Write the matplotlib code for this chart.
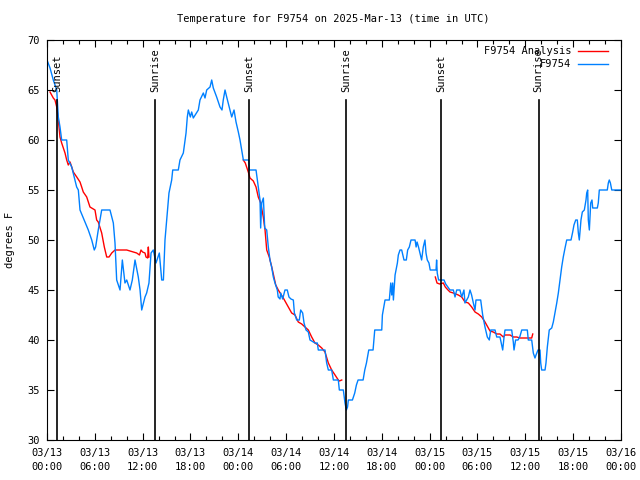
import matplotlib
matplotlib.use("Agg")
import matplotlib.pyplot as plt
import matplotlib.dates as mdates
import numpy as np
import pandas as pd

START = pd.Timestamp("2025-03-13 00:00")

# observations, hours since 03/13 00:00 UTC
obs_hours = [
    0.0, 0.38, 0.79, 1.22, 1.42, 1.63, 1.84, 2.47, 2.67, 3.1, 3.51, 3.72, 3.93, 4.14, 4.55,
    5.18, 5.61, 5.93, 6.1, 6.43, 6.86, 7.9, 8.32, 8.53, 8.74, 9.16, 9.45, 9.78, 10.0, 10.41,
    10.7, 11.04, 11.45, 11.67, 11.88, 12.29, 12.5, 12.79, 13.05, 13.33, 13.67, 14.09, 14.39,
    14.6, 14.8, 15.3, 15.64, 15.77, 16.47, 16.68, 17.1, 17.44, 17.6, 17.73, 17.98, 18.15,
    18.35, 18.98, 19.19, 19.61, 19.82, 20.03, 20.45, 20.66, 20.86, 21.28, 21.7, 21.95, 22.11,
    22.33, 22.54, 22.95, 23.17, 23.46, 23.71, 24.0, 24.21, 24.42, 24.63, 25.3, 25.38, 26.22,
    26.51, 26.72, 26.8, 26.93, 27.14, 27.31, 27.56, 27.76, 27.97, 28.18, 28.39, 28.6, 28.89,
    29.0, 29.23, 29.31, 29.56, 29.85, 30.14, 30.35, 30.6, 30.9, 31.03, 31.32, 31.65, 31.82,
    32.07, 32.24, 32.49, 32.78, 32.99, 33.62, 33.91, 34.03, 34.87, 35.08, 35.29, 35.71, 35.92,
    36.54, 36.67, 37.17, 37.38, 37.55, 37.7, 37.8, 38.31, 38.6, 38.81, 39.02, 39.65, 39.86,
    40.07, 40.36, 40.9, 41.11, 41.99, 42.07, 42.4, 42.94, 43.12, 43.24, 43.36, 43.45, 43.66,
    43.95, 44.07, 44.28, 44.49, 44.78, 45.07, 45.24, 45.45, 45.66, 46.17, 46.3, 46.42, 46.6,
    46.99, 47.2, 47.41, 47.54, 47.7, 47.91, 48.07, 48.8, 48.87, 48.95, 49.12,
    49.25, 49.8, 50.01, 50.55, 50.97, 51.18, 51.39, 51.8, 52.02, 52.3, 52.43, 52.85, 53.06,
    53.26, 53.48, 53.69, 53.81, 54.4, 54.65, 54.94, 55.23, 55.48, 55.66, 56.2, 56.41, 56.82,
    57.16, 57.33, 57.45, 58.29, 58.49, 58.58, 58.78, 59.08, 59.3, 59.55, 60.25, 60.37, 60.8,
    61.0, 61.21, 61.34, 61.59, 61.84, 61.93, 62.05, 62.47, 62.59, 62.76, 63.0, 63.31, 63.51,
    63.72, 63.94, 64.14, 64.35, 64.56, 64.76, 64.98, 65.19, 65.73, 65.94, 66.1, 66.32, 66.52,
    66.65, 66.77, 66.98, 67.15, 67.4, 67.61, 67.7, 67.82, 67.9, 68.03, 68.2, 68.36, 68.45,
    69.03, 69.15, 69.28, 70.28, 70.41, 70.53, 70.67, 70.84, 72.0,
]
obs_temp = [
    68.0, 67.2, 66.0, 65.0, 62.3, 61.3, 60.0, 60.0, 58.0, 57.3, 56.0, 55.3, 55.0, 53.0, 52.2,
    51.0, 50.0, 49.0, 49.3, 51.0, 53.0, 53.0, 51.7, 49.7, 46.0, 45.0, 48.0, 45.7, 46.0, 45.0,
    46.0, 48.0, 46.3, 45.0, 43.0, 44.3, 44.7, 45.7, 48.7, 49.0, 47.7, 48.7, 46.0,
    46.0, 50.0, 54.7, 56.0, 57.0, 57.0, 58.0, 58.7, 60.7, 62.3, 63.0, 62.3, 62.8,
    62.2, 63.0, 64.0, 64.7, 64.2, 65.0, 65.3, 66.0, 65.2, 64.3, 63.3, 63.0, 64.0,
    65.0, 64.3, 63.0, 62.3, 63.0, 61.8, 60.8, 60.0, 59.0, 58.0, 58.0, 57.0, 57.0,
    55.3, 54.0, 51.2, 53.7, 54.2, 51.2, 51.0, 49.3, 48.0, 47.3, 46.3, 45.7, 45.0,
    44.3, 44.1, 44.7, 44.1, 45.0, 45.0, 44.3, 44.1, 44.0, 42.7, 42.0, 42.0, 43.0,
    42.7, 41.7, 41.0, 40.8, 40.0, 39.7, 39.7, 39.0, 39.0, 37.7, 37.0, 37.0, 36.0,
    36.0, 35.0, 35.0, 33.7, 33.0, 33.3, 34.0, 34.0, 34.7, 35.5, 36.0, 36.0, 37.0,
    37.7, 39.0, 39.0, 41.0, 41.0, 42.5, 44.0, 44.0, 45.7, 44.5, 45.7, 44.0, 46.5,
    47.7, 48.5, 49.0, 49.0, 48.0, 48.0, 49.0, 49.3, 50.0, 50.0, 49.3, 49.8, 49.3,
    48.0, 49.3, 50.0, 48.7, 48.0, 47.7, 47.0, 47.0, 48.0, 46.7, 46.0,
    46.0, 46.0, 45.6, 45.0, 45.0, 44.3, 45.0, 45.0, 44.3, 45.0, 43.7, 44.3, 45.0,
    44.5, 43.7, 43.0, 44.0, 44.0, 42.5, 41.3, 40.3, 40.0, 41.0, 41.0, 40.3, 40.3,
    39.0, 40.3, 41.0, 41.0, 39.8, 39.0, 40.0, 40.0, 40.3, 41.0, 41.0, 40.0, 40.0,
    38.7, 38.2, 38.5, 39.0, 39.0, 37.7, 37.0, 37.0, 37.7, 39.3, 41.0, 41.2, 41.8,
    42.7, 43.7, 44.7, 46.0, 47.3, 48.3, 49.2, 50.0, 50.0, 50.8, 51.5, 52.0, 52.0,
    50.7, 50.0, 52.0, 52.8, 53.0, 54.0, 54.7, 55.0, 52.0, 51.0, 53.7, 54.0, 53.2,
    53.2, 53.7, 55.0, 55.0, 55.7, 56.0, 55.7, 55.0, 55.0,
]

# analysis, three night-time pieces
ana1_hours = [0.38, 0.79, 1.0, 1.22, 1.42, 1.63, 1.84, 2.26, 2.47, 2.67, 2.89, 3.1, 3.3, 3.73,
              4.14, 4.35, 4.55, 4.98, 5.39, 5.81, 6.02, 6.23, 6.43, 6.86, 7.19, 7.49, 7.78,
              8.12, 8.53, 10.0, 10.41, 10.83, 11.25, 11.6, 11.79, 11.99, 12.29, 12.42, 12.63,
              12.71, 12.79]
ana1_temp = [64.8, 64.2, 64.0, 63.3, 62.0, 60.3, 59.7, 58.7, 58.0, 57.5, 57.8, 57.3, 56.8, 56.3,
             55.8, 55.3, 54.8, 54.3, 53.3, 53.1, 53.0, 52.0, 51.8, 50.7, 49.3, 48.3, 48.3,
             48.7, 49.0, 49.0, 48.9, 48.8, 48.7, 48.5, 49.0, 48.8, 48.7, 48.3, 48.2,
             49.3, 48.3]
ana2_hours = [24.62, 24.87, 25.25, 25.46, 25.88, 26.22, 26.5, 26.81, 27.13, 27.35, 27.56, 27.88,
              28.19, 28.47, 28.69, 29.01, 29.64, 29.85, 30.27, 30.69, 31.11, 31.52, 31.95,
              32.36, 32.78, 33.2, 33.61, 34.03, 34.46, 34.87, 35.29, 35.71, 36.13, 36.54,
              36.67, 36.97]
ana2_temp = [58.0, 57.7, 56.8, 56.2, 55.9, 55.3, 54.3, 53.7, 52.3, 51.0, 49.0, 48.3,
             47.3, 46.3, 45.5, 45.0, 44.2, 43.9, 43.3, 42.7, 42.5, 41.8, 41.6,
             41.3, 41.0, 40.3, 39.7, 39.5, 39.2, 38.8, 37.7, 37.0, 36.5, 36.0,
             35.9, 36.0]
ana3_hours = [48.71, 48.92, 49.25, 49.71, 49.96, 50.3, 50.55, 50.97, 51.59, 52.02, 52.43, 52.85,
              53.27, 53.69, 54.1, 54.53, 54.94, 55.36, 55.57, 55.98, 56.41, 56.82, 57.24,
              57.45, 58.08, 58.49, 58.92, 59.33, 60.8, 60.93]
ana3_temp = [46.3, 45.7, 45.6, 45.7, 45.3, 45.0, 44.8, 44.7, 44.5, 44.3, 43.8, 43.7,
             43.3, 42.8, 42.6, 42.3, 41.8, 41.2, 40.9, 40.8, 40.6, 40.6, 40.3,
             40.5, 40.5, 40.3, 40.3, 40.2, 40.2, 40.6]

sun_hours = [1.29, 13.59, 25.38, 37.55, 49.46, 61.67]
sun_names = ["Sunset", "Sunrise", "Sunset", "Sunrise", "Sunset", "Sunrise"]


def to_time(hours):
    return START + pd.to_timedelta(np.array(hours), unit="h")


FONT = "DejaVu Sans Mono"
plt.rcParams["font.family"] = FONT
plt.rcParams["font.size"] = 7

fig = plt.figure(figsize=(6.4, 4.8), dpi=100)
ax = fig.add_axes([47 / 640, 40 / 480, 574 / 640, 400 / 480])

red = "#ff0000"
blue = "#0080ff"

ax.plot(to_time(ana1_hours), ana1_temp, color=red, lw=1.0, label="F9754 Analysis")
ax.plot(to_time(ana2_hours), ana2_temp, color=red, lw=1.0)
ax.plot(to_time(ana3_hours), ana3_temp, color=red, lw=1.0)
ax.plot(to_time(obs_hours), obs_temp, color=blue, lw=1.0, label="F9754")

for h, name in zip(sun_hours, sun_names):
    t = to_time([h])[0]
    ax.plot([t, t], [30, 64], color="black", lw=1.2)
    ax.text(t, 64.8, name, rotation=90, ha="center", va="bottom", fontsize=7.5)

ax.set_xlim(START, START + pd.Timedelta(hours=72))
ax.set_ylim(30, 70)
ax.set_yticks(np.arange(30, 71, 5))

ticks = pd.date_range(START, periods=13, freq="6h")
labels = [t.strftime("%m/%d\n%H:%M") for t in ticks]
ax.set_xticks(ticks, labels=labels, linespacing=1.5)
ax.xaxis.set_minor_locator(mdates.HourLocator(interval=2))

ax.tick_params(which="both", direction="in", top=True, right=True, labelsize=7.5)
ax.tick_params(which="major", length=5, width=0.8)
ax.tick_params(which="minor", length=3, width=0.8)
ax.tick_params(axis="x", pad=6)
ax.tick_params(axis="y", pad=5)

ax.legend(loc="upper right", bbox_to_anchor=(0.988, 1.0), frameon=False, markerfirst=False,
          fontsize=7.5, handlelength=2.9, labelspacing=0.3, borderaxespad=0.2,
          handletextpad=0.6)

fig.text(0.52, 0.96, "Temperature for F9754 on 2025-Mar-13 (time in UTC)",
         ha="center", va="center", fontsize=7.5)
fig.text(0.016, 0.5, "degrees F", rotation=90, ha="center", va="center", fontsize=7.5)

fig.savefig("out.png", dpi=100)
